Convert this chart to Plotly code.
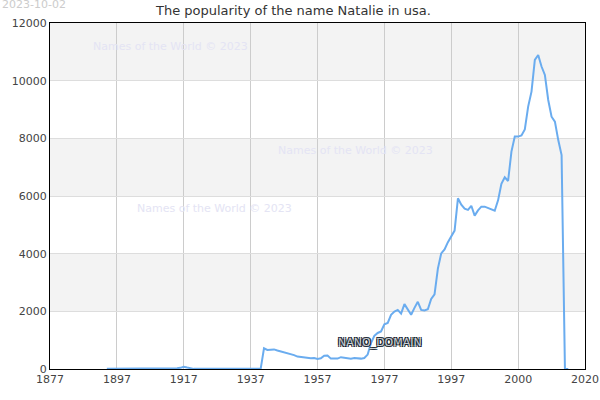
import plotly.graph_objects as go

# axis positions of the yearly points (as laid out on the reference axis)
years = list(range(1894, 2033))

counts = (
    [5] * 10                                   # 1894-1903
    + [30] * 12                                # 1904-1915
    + [40, 80, 50, 20]                         # 1916-1919
    + [5] * 21                                 # 1920-1940
    + [718, 660, 670, 680, 640, 610, 580, 550, 510, 480,   # 1941-1950
       430, 410, 400, 375, 375, 380, 350, 370, 460, 470,   # 1951-1960
       360, 360, 360, 410, 390, 370, 360, 380, 370, 360,   # 1961-1970
       380, 500, 900, 1150, 1250, 1300, 1550, 1600, 1880, 1990,   # 1971-1980
       2050, 1920, 2250, 2050, 1880, 2120, 2330, 2050, 2030, 2070,  # 1981-1990
       2430, 2590, 3480, 4010, 4150, 4400, 4600, 4800, 5920, 5700,  # 1991-2000
       5560, 5520, 5660, 5320, 5500, 5630, 5630, 5580, 5550, 5490,  # 2001-2010
       5850, 6420, 6650, 6520, 7540, 8060, 8060, 8100, 8310, 9100,  # 2011-2020
       9620, 10720, 10890, 10490, 10200, 9330, 8750, 8580, 7940, 7420,  # 2021-2030
       0, 0]                                                    # 2031-2032
)

tick_vals = list(range(1877, 2038, 20))
tick_text = ['1877', '1897', '1917', '1937', '1957', '1977', '1997', '2000', '2020']
y_ticks = list(range(0, 12001, 2000))

watermark = 'Names of the World © 2023'

fig = go.Figure()

fig.add_trace(go.Scatter(
    x=years, y=counts, mode='lines',
    line=dict(color='#6aacef', width=2),
    hoverinfo='x+y', showlegend=False,
))

# alternating grey bands
for lo in (2000, 6000, 10000):
    fig.add_shape(type='rect', xref='paper', yref='y', x0=0, x1=1, y0=lo, y1=lo + 2000,
                  fillcolor='#f3f3f3', line_width=0, layer='below')

fig.update_layout(
    width=600, height=400,
    margin=dict(l=50, r=15, t=23, b=31),
    paper_bgcolor='white', plot_bgcolor='white',
    font=dict(family='DejaVu Sans', size=11, color='#444'),
    title=dict(text='The popularity of the name Natalie in usa.',
               x=0.489, xref='container', xanchor='center',
               y=1 - 10 / 400, yref='container', yanchor='middle',
               font=dict(size=13, color='#333')),
)

fig.update_xaxes(
    range=[1877, 2037], tickvals=tick_vals, ticktext=tick_text,
    showgrid=True, gridcolor='#cccccc', gridwidth=1,
    showline=True, linecolor='black', linewidth=1, mirror=True,
    ticks='', zeroline=False, automargin=False,
)
fig.update_yaxes(
    range=[0, 12000], tickvals=y_ticks, ticktext=[str(v) for v in y_ticks],
    showgrid=True, gridcolor='#dddddd', gridwidth=1,
    showline=True, linecolor='black', linewidth=1, mirror=True,
    ticks='', zeroline=False, automargin=False,
)

fig.add_annotation(text='2023-10-02', xref='paper', yref='paper',
                   x=-50 / 535, y=1 + 18 / 346, xanchor='left', yanchor='middle',
                   showarrow=False, font=dict(size=11, color='#cccccc'))

for wx, wy in [(170, 46), (355, 150), (214, 208)]:
    fig.add_annotation(text=watermark, xref='paper', yref='paper',
                       x=(wx - 50) / 535, y=(369 - wy) / 346,
                       xanchor='center', yanchor='middle',
                       showarrow=False, font=dict(size=11, color='#e4e4f4'))

outline = ', '.join(f'{dx}px {dy}px 0 #1c2833' for dx, dy in [(-1, -1), (1, -1), (-1, 1), (1, 1)])
fig.add_annotation(text='NANO_DOMAIN', xref='paper', yref='paper',
                   x=(380 - 50) / 535, y=(369 - 342) / 346,
                   xanchor='center', yanchor='middle',
                   showarrow=False,
                   font=dict(size=11, color='#c8ced4', shadow=outline))

# drop the page's default body margin so the chart sits at the window corner
fig.write_html('out.html', config={'displayModeBar': False},
               post_script="document.body.style.margin='0';")
